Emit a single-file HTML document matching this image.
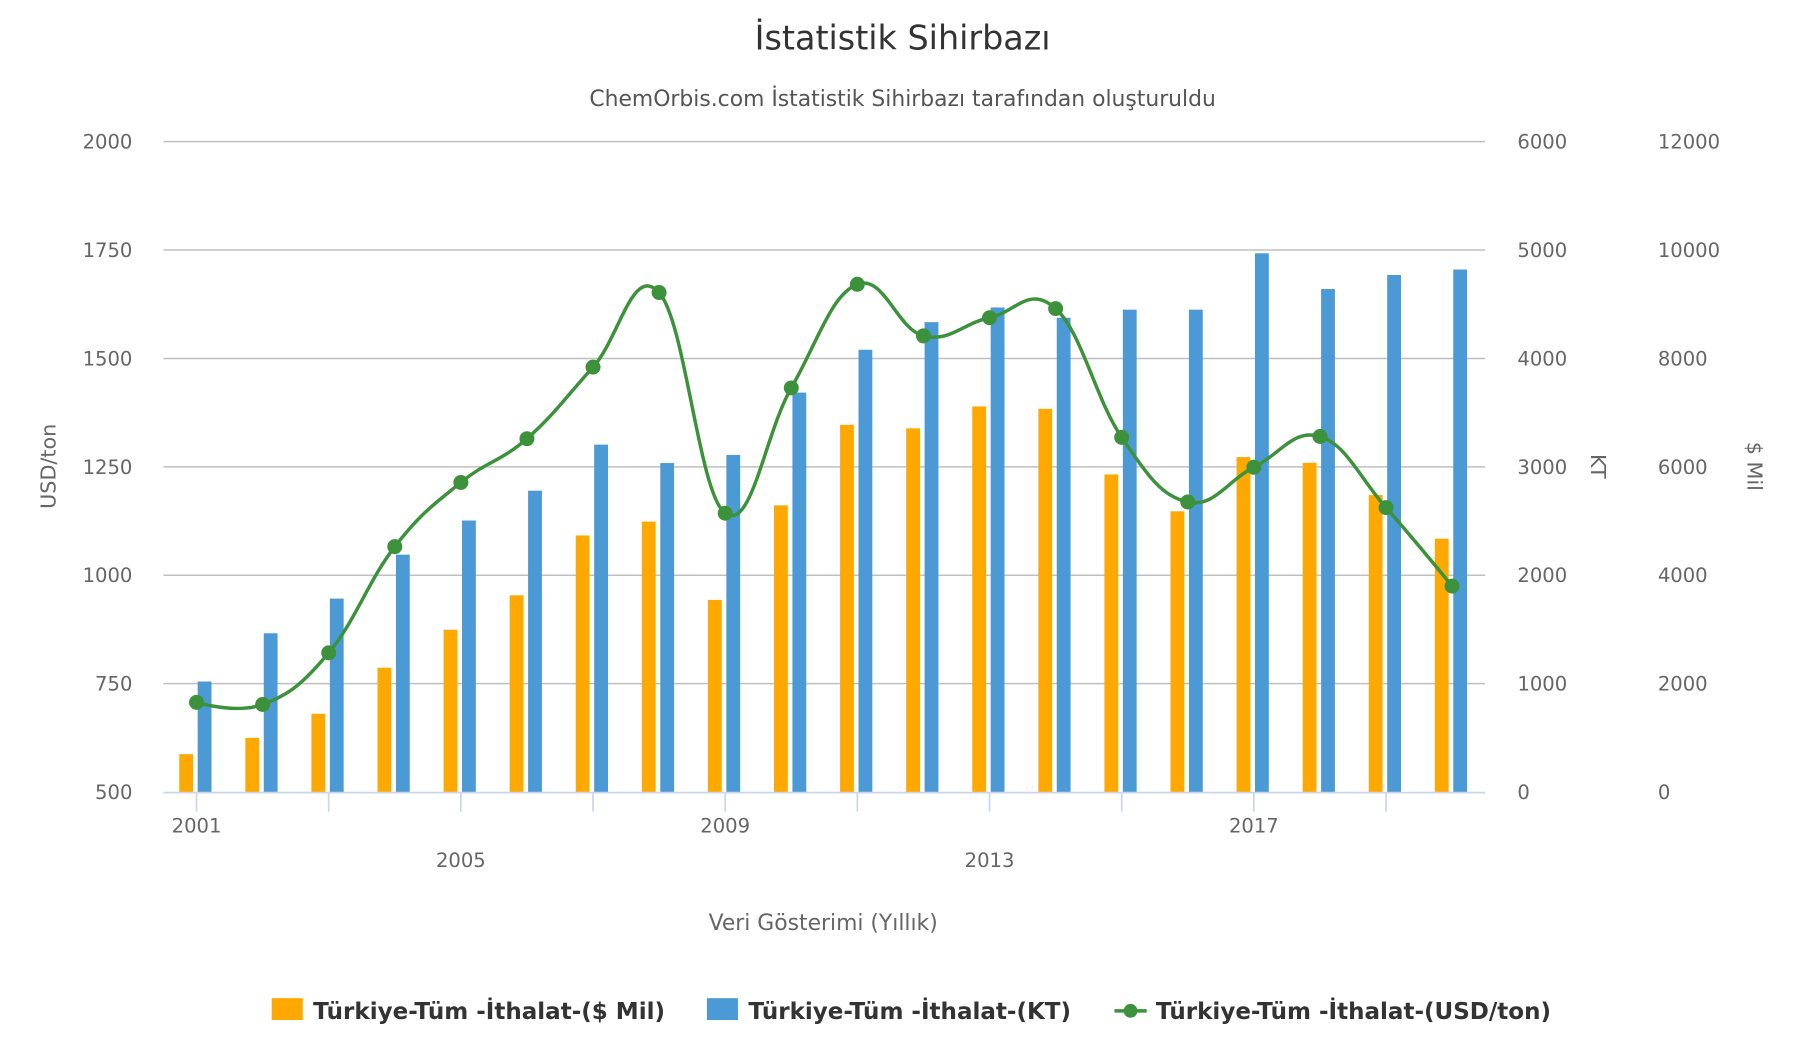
<!DOCTYPE html>
<html><head><meta charset="utf-8"><style>
html,body{margin:0;padding:0;background:#fff;}
svg{display:block;font-family:"DejaVu Sans","Liberation Sans",sans-serif;}
</style></head><body>
<svg id="chart" width="1796" height="1050" viewBox="0 0 1560 912" xmlns="http://www.w3.org/2000/svg">
<text x="784" y="43" text-anchor="middle" font-size="29" fill="#333">İstatistik Sihirbazı</text>
<text x="784" y="92" text-anchor="middle" font-size="19" fill="#555">ChemOrbis.com İstatistik Sihirbazı tarafından oluşturuldu</text>
<g id="grid"></g>
<g id="bars"></g>
<g id="line"></g>
<g id="axes"></g>
<text transform="translate(48,405) rotate(-90)" text-anchor="middle" font-size="18" fill="#666">USD/ton</text>
<text transform="translate(1382,405) rotate(90)" text-anchor="middle" font-size="18" fill="#666">KT</text>
<text transform="translate(1518,405) rotate(90)" text-anchor="middle" font-size="18" fill="#666">$ Mil</text>
<text x="715" y="808" text-anchor="middle" font-size="19" fill="#666">Veri Gösterimi (Yıllık)</text>
<g font-size="20" font-weight="bold" fill="#333">
 <g><rect x="236" y="867" width="27" height="19" fill="#ffa800"/><text x="272" y="885">Türkiye-Tüm -İthalat-($ Mil)</text></g>
 <g><rect x="614" y="867" width="27" height="19" fill="#4b9ad5"/><text x="650" y="885">Türkiye-Tüm -İthalat-(KT)</text></g>
 <g><line x1="968" y1="878" x2="996" y2="878" stroke="#3b923b" stroke-width="3"/><circle cx="982" cy="878" r="6" fill="#3b923b"/><text x="1004" y="885">Türkiye-Tüm -İthalat-(USD/ton)</text></g>
</g>
</svg>
<script>
const years=[2001,2002,2003,2004,2005,2006,2007,2008,2009,2010,2011,2012,2013,2014,2015,2016,2017,2018,2019,2020];
const milValues=[700,1000,1445,2295,2995,3630,4735,4990,3545,5290,6775,6710,7115,7070,5860,5180,6180,6075,5480,4675];
const ktValues=[1020,1465,1785,2190,2505,2780,3205,3035,3110,3685,4080,4335,4470,4375,4450,4450,4970,4640,4770,4820];
const usdValues=[707,702,821,1066,1214,1315,1480,1652,1143,1432,1671,1552,1594,1615,1318,1169,1249,1320,1156,975];
const leftTicks=[500,750,1000,1250,1500,1750,2000];
const ktTicks=[0,1000,2000,3000,4000,5000,6000];
const milTicks=[0,2000,4000,6000,8000,10000,12000];
const xLabels=[2001,2005,2009,2013,2017];

const NS="http://www.w3.org/2000/svg";
const L=142,R=1290,T=123,B=688;
const band=(R-L)/years.length;
const xC=i=>L+band*(i+0.5);
const yUsd=v=>B-(v-500)/1500*(B-T);
const yKt=v=>B-v/6000*(B-T);
const yMil=v=>B-v/12000*(B-T);
function mk(tag,attrs,parent,txt){const e=document.createElementNS(NS,tag);for(const k in attrs)e.setAttribute(k,attrs[k]);if(txt!==undefined)e.textContent=txt;parent.appendChild(e);return e;}
const grid=document.getElementById('grid'),bars=document.getElementById('bars'),line=document.getElementById('line'),axes=document.getElementById('axes');
leftTicks.forEach((t,i)=>{
 const y=yUsd(t);
 if(i>0){const g=mk('line',{x1:L,x2:R,y1:y,y2:y,stroke:'#c0c0c0','stroke-width':1.3},grid);}
 const a=mk('text',{x:115,y:y+6,'text-anchor':'end','font-size':17,fill:'#666'},axes,t);
 
});
ktTicks.forEach(t=>{const a=mk('text',{x:1318,y:yKt(t)+6,'font-size':17,fill:'#666'},axes,t);
 });
milTicks.forEach(t=>{const a=mk('text',{x:1440,y:yMil(t)+6,'font-size':17,fill:'#666'},axes,t);
 });
const ax=mk('line',{x1:L,x2:R,y1:B+0.5,y2:B+0.5,stroke:'#ccd6eb','stroke-width':1.5},axes);

years.forEach((yr,i)=>{
 if(i%2===0){const t=mk('line',{x1:xC(i),x2:xC(i),y1:B,y2:B+17,stroke:'#ccd6eb','stroke-width':1.5},axes);
  }
 const ob=mk('rect',{x:xC(i)-15,y:yMil(milValues[i]),width:12,height:B-yMil(milValues[i]),fill:'#ffa800'},bars);
 
 const bb=mk('rect',{x:xC(i)+1,y:yKt(ktValues[i]),width:12,height:B-yKt(ktValues[i]),fill:'#4b9ad5'},bars);
 
});
xLabels.forEach((yr,k)=>{
 const i=years.indexOf(yr);
 const t=mk('text',{x:xC(i),y:k%2===0?723:753,'text-anchor':'middle','font-size':17,fill:'#666'},axes,yr);
 
});
// spline
const pts=usdValues.map((v,i)=>[xC(i),yUsd(v)]);
let d='M'+pts[0][0]+' '+pts[0][1];
const sm=1.5,den=sm+1;
function ctrl(i){ // Highcharts-style
 const p=pts[i],a=pts[i-1],b=pts[i+1];
 if(!a||!b)return [p,p];
 let lx=(sm*p[0]+a[0])/den,ly=(sm*p[1]+a[1])/den,rx=(sm*p[0]+b[0])/den,ry=(sm*p[1]+b[1])/den;
 const corr=((ry-ly)*(rx-p[0]))/(rx-lx)+p[1]-ry;
 ly+=corr;ry+=corr;
 return [[lx,ly],[rx,ry]];
}
for(let i=1;i<pts.length;i++){
 const c1=ctrl(i-1)[1],c2=ctrl(i)[0];
 d+=' C'+c1[0]+' '+c1[1]+' '+c2[0]+' '+c2[1]+' '+pts[i][0]+' '+pts[i][1];
}
const path=mk('path',{d:d,fill:'none',stroke:'#3b923b','stroke-width':3},line);

pts.forEach((p,i)=>{const c=mk('circle',{cx:p[0],cy:p[1],r:6.5,fill:'#3b923b'},line);
 });
</script>
</body></html>
